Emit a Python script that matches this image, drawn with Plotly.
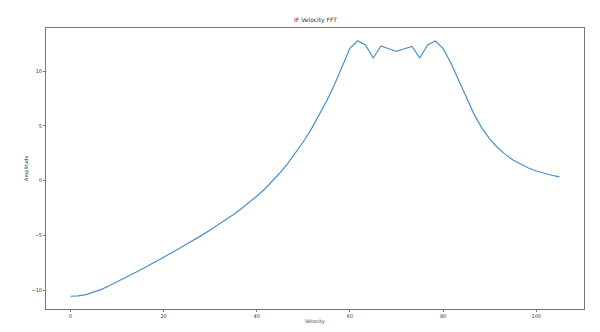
import plotly.graph_objects as go

velocity = [0.0, 1.67, 3.33, 5.0, 6.67, 8.33, 10.0, 11.67, 13.33, 15.0, 16.67, 18.33,
            20.0, 21.67, 23.33, 25.0, 26.67, 28.33, 30.0, 31.67, 33.33, 35.0, 36.67, 38.33,
            40.0, 41.67, 43.33, 45.0, 46.67, 48.33, 50.0, 51.67, 53.33, 55.0, 56.67, 58.33,
            60.0, 61.67, 63.33, 65.0, 66.67, 68.33, 70.0, 71.67, 73.33, 75.0, 76.67, 78.33,
            80.0, 81.67, 83.33, 85.0, 86.67, 88.33, 90.0, 91.67, 93.33, 95.0, 96.67, 98.33,
            100.0, 101.67, 103.33, 105.0]

amplitude = [-10.55, -10.52, -10.4, -10.18, -9.92, -9.6, -9.25, -8.9, -8.52, -8.15, -7.77, -7.4,
             -7.0, -6.6, -6.2, -5.8, -5.38, -4.95, -4.5, -4.05, -3.58, -3.08, -2.56, -2.0,
             -1.42, -0.78, -0.05, 0.72, 1.58, 2.52, 3.55, 4.68, 5.92, 7.27, 8.75, 10.38,
             12.08, 12.77, 12.38, 11.2, 12.29, 12.04, 11.8, 12.04, 12.25, 11.2, 12.38, 12.75,
             12.05, 10.75, 9.2, 7.55, 6.05, 4.8, 3.82, 3.03, 2.4, 1.89, 1.48, 1.15,
             0.88, 0.66, 0.49, 0.35]

x_ticks = [0, 20, 40, 60, 80, 100]
y_ticks = [-10, -5, 0, 5, 10]

title_text = "IF Velocity FFT"
x_label = "Velocity"
y_label = "Amplitude"

font_family = "DejaVu Sans"
axis_color = "#777777"
text_color = "#333333"

fig = go.Figure()
fig.add_trace(go.Scatter(
    x=velocity, y=amplitude, mode="lines",
    line=dict(color="#4a90c8", width=1.2),
    showlegend=False, hoverinfo="skip",
))

xmin, xmax = min(velocity), max(velocity)
ymin, ymax = min(amplitude), max(amplitude)
xpad = (xmax - xmin) * 0.05
ypad = (ymax - ymin) * 0.05

axis_common = dict(
    showgrid=False, zeroline=False, showline=True, mirror=True,
    linecolor=axis_color, linewidth=1,
    ticks="outside", ticklen=2, tickwidth=0.8, tickcolor=axis_color,
    tickfont=dict(family=font_family, size=5, color=text_color),
)

fig.update_layout(
    width=600, height=332,
    margin=dict(l=46, r=16, t=28, b=23),
    paper_bgcolor="white", plot_bgcolor="white",
    font=dict(family=font_family, size=5, color=text_color),
    xaxis=dict(range=[xmin - xpad, xmax + xpad], tickvals=x_ticks, **axis_common),
    yaxis=dict(range=[ymin - ypad, ymax + ypad], tickvals=y_ticks, **axis_common),
    annotations=[
        dict(text=title_text, x=0.5, y=1, xref="paper", yref="paper",
             xanchor="center", yanchor="bottom", yshift=2, showarrow=False,
             font=dict(family=font_family, size=6, color=text_color)),
        dict(text=x_label, x=0.5, y=0, xref="paper", yref="paper",
             xanchor="center", yanchor="middle", yshift=-12.5, showarrow=False,
             font=dict(family=font_family, size=5, color=text_color)),
        dict(text=y_label, x=0, y=0.5, xref="paper", yref="paper",
             xanchor="center", yanchor="middle", xshift=-19.5, textangle=-90,
             showarrow=False,
             font=dict(family=font_family, size=5, color=text_color)),
    ],
)

fig.write_html("out.html")
